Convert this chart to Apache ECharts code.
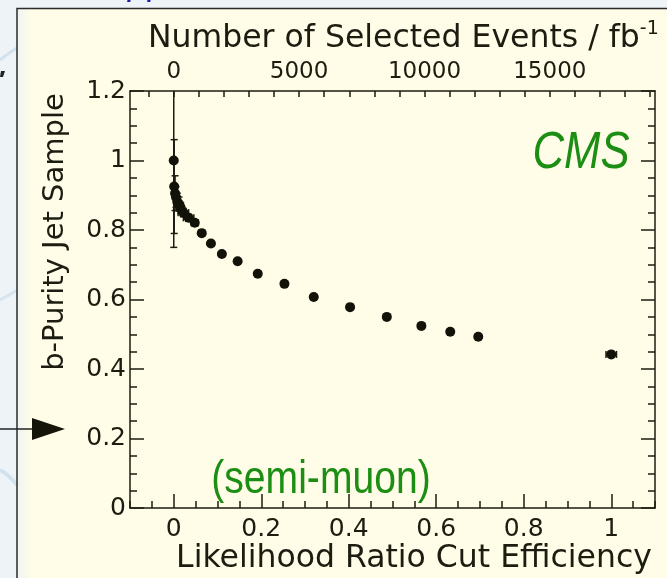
<!DOCTYPE html>
<html>
<head>
<meta charset="utf-8">
<script src="https://cdn.jsdelivr.net/npm/echarts@6/dist/echarts.min.js"></script>
<style>
  html, body { margin: 0; padding: 0; background: #eef3f7; }
  #chart { width: 667px; height: 578px; }
</style>
</head>
<body>
<div id="chart"></div>
<script>
// Likelihood-ratio cut efficiency vs. b-purity of the selected jet sample
const effCut    = [0, 0.001, 0.003, 0.005, 0.008, 0.012, 0.016, 0.022, 0.034, 0.048,
                   0.064, 0.085, 0.110, 0.146, 0.192, 0.253, 0.320, 0.403, 0.487,
                   0.566, 0.632, 0.696, 1.0];
const bPurity   = [1.0, 0.925, 0.906, 0.895, 0.881, 0.875, 0.863, 0.850, 0.835, 0.821,
                   0.791, 0.761, 0.731, 0.710, 0.674, 0.645, 0.607, 0.578, 0.550,
                   0.524, 0.507, 0.493, 0.442];
const purityErr = [0.25, 0.135, 0.05, 0.03, 0.025, 0.02, 0.015, 0.012, 0.01, 0.008,
                   0.008, 0.006, 0.005, 0.005, 0.004, 0.004, 0.004, 0.004, 0.004,
                   0.004, 0.004, 0.004, 0.004];
const effErr    = [0, 0, 0, 0, 0, 0.005, 0.008, 0.012, 0.012, 0.008,
                   0, 0, 0, 0, 0, 0, 0, 0, 0,
                   0, 0, 0, 0.012];

// Axis tick values
const effTicks    = [0, 0.2, 0.4, 0.6, 0.8, 1.0];
const purityTicks = [0, 0.2, 0.4, 0.6, 0.8, 1.0, 1.2];
const eventTicks  = [0, 5000, 10000, 15000];
const eventsAtFullEff = 17450;   // selected events per fb^-1 at efficiency 1

const effMin = -0.1, effMax = 1.1;
const purMin = 0, purMax = 1.2;

function steps(from, to, step) {
  const out = [];
  const n = Math.round((to - from) / step);
  for (let i = 0; i <= n; i++) out.push(+(from + i * step).toFixed(6));
  return out;
}
const isMajor = (v, list) => list.some(m => Math.abs(m - v) < 1e-9);
const effMinor = steps(effMin, effMax, 0.05).filter(v => !isMajor(v, effTicks));
const purMinor = steps(purMin, purMax, 0.05).filter(v => !isMajor(v, purityTicks));
const eventMinor = steps(-1000, 19000, 1000);

const INK = '#1c1c10';
const GREEN = '#1b8e13';
const numFmt = v => String(Math.round(v * 10) / 10);

const chart = echarts.init(document.getElementById('chart'), null, { renderer: 'canvas' });

const axisLine = { show: true, onZero: false, lineStyle: { color: INK, width: 1.5 } };
const hiddenLine = { show: false, onZero: false };
const noSplit = { show: false };
const tickStyle = { color: INK, width: 1.5 };

chart.setOption({
  backgroundColor: '#eef3f7',
  animation: false,
  grid: { left: 130, right: 12, top: 91, bottom: 70, containLabel: false },
  xAxis: [
    { type: 'value', position: 'bottom', min: effMin, max: effMax,
      axisLine, splitLine: noSplit,
      axisTick: { inside: true, length: 14, customValues: effTicks, lineStyle: tickStyle },
      axisLabel: { customValues: effTicks, formatter: numFmt, margin: 9,
                   color: INK, fontFamily: 'DejaVu Sans', fontSize: 25 } },
    { type: 'value', position: 'bottom', min: effMin, max: effMax,
      axisLine: hiddenLine, splitLine: noSplit, axisLabel: { show: false },
      axisTick: { inside: true, length: 7, customValues: effMinor, lineStyle: tickStyle } },
    { type: 'value', position: 'top', min: effMin * eventsAtFullEff, max: effMax * eventsAtFullEff,
      axisLine, splitLine: noSplit,
      axisTick: { inside: true, length: 6, customValues: eventMinor, lineStyle: tickStyle },
      axisLabel: { customValues: eventTicks, formatter: v => String(v), margin: 7,
                   hideOverlap: false, showMinLabel: true, showMaxLabel: true,
                   color: INK, fontFamily: 'DejaVu Sans', fontSize: 23 } }
  ],
  yAxis: [
    { type: 'value', position: 'left', min: purMin, max: purMax,
      axisLine, splitLine: noSplit,
      axisTick: { inside: true, length: 14, customValues: purityTicks, lineStyle: tickStyle },
      axisLabel: { customValues: purityTicks, formatter: numFmt, margin: 4,
                   color: INK, fontFamily: 'DejaVu Sans', fontSize: 25 } },
    { type: 'value', position: 'left', min: purMin, max: purMax,
      axisLine: hiddenLine, splitLine: noSplit, axisLabel: { show: false },
      axisTick: { inside: true, length: 7, customValues: purMinor, lineStyle: tickStyle } },
    { type: 'value', position: 'right', min: purMin, max: purMax,
      axisLine, splitLine: noSplit, axisLabel: { show: false },
      axisTick: { inside: true, length: 14, customValues: purityTicks, lineStyle: tickStyle } },
    { type: 'value', position: 'right', min: purMin, max: purMax,
      axisLine: hiddenLine, splitLine: noSplit, axisLabel: { show: false },
      axisTick: { inside: true, length: 7, customValues: purMinor, lineStyle: tickStyle } }
  ],
  graphic: [
    // page background and the cream panel
    { type: 'rect', z: -20, shape: { x: 18, y: 9, width: 649, height: 569 }, style: { fill: '#fffde8' } },
    { type: 'rect', z: -19, shape: { x: 18, y: 9, width: 14, height: 569 },
      style: { fill: new echarts.graphic.LinearGradient(0, 0, 1, 0, [
        { offset: 0, color: '#f1f5f2' }, { offset: 1, color: '#fffde8' }]) } },
    { type: 'polyline', z: -18, shape: { points: [[17, 578], [17, 8.5], [667, 8.5]] },
      style: { stroke: '#2b2b2b', lineWidth: 1.5, fill: null } },
    // faint swirls on the page
    { type: 'bezierCurve', z: -19, shape: { x1: 0, y1: 60, x2: 17, y2: 48, cpx1: 6, cpy1: 55 },
      style: { stroke: '#d3e1ec', lineWidth: 3, fill: null } },
    { type: 'bezierCurve', z: -19, shape: { x1: 0, y1: 300, x2: 17, y2: 290, cpx1: 8, cpy1: 296 },
      style: { stroke: '#d8e4ee', lineWidth: 3, fill: null } },
    { type: 'bezierCurve', z: -19, shape: { x1: 0, y1: 470, x2: 17, y2: 485, cpx1: 8, cpy1: 474 },
      style: { stroke: '#d3e1ec', lineWidth: 4, fill: null } },
    // fragment of the slide heading above the panel
    { type: 'text', z: -17, x: 128, y: -34,
      style: { text: 'pp', font: 'italic 36px "Liberation Sans"', fill: '#1c1ca8' } },
    { type: 'polygon', z: -17, shape: { points: [[1, 71], [5, 71], [3, 77], [0, 77]] }, style: { fill: '#222' } },
    // pointer arrow
    { type: 'line', z: 5, shape: { x1: 0, y1: 429, x2: 40, y2: 429 }, style: { stroke: '#222', lineWidth: 1.5 } },
    { type: 'polygon', z: 5, shape: { points: [[32, 418], [65, 429], [32, 440]] }, style: { fill: '#15150a' } },
    // axis titles
    { type: 'text', z: 5, x: 148, y: 20,
      style: { text: '{a|Number of Selected Events / fb}{s|-1}', fill: INK,
        rich: { a: { fontFamily: 'DejaVu Sans', fontSize: 31.5, lineHeight: 38, fill: INK },
                s: { fontFamily: 'DejaVu Sans', fontSize: 19, lineHeight: 36, verticalAlign: 'top', fill: INK } } } },
    { type: 'text', z: 5, x: 414, y: 559,
      style: { text: 'Likelihood Ratio Cut Efficiency', fill: INK, align: 'center', verticalAlign: 'middle',
               font: '31.5px "DejaVu Sans"' } },
    { type: 'text', z: 5, x: 55, y: 232, rotation: Math.PI / 2,
      style: { text: 'b-Purity Jet Sample', fill: INK, align: 'center', verticalAlign: 'middle',
               font: '29px "DejaVu Sans"' } },
    // annotations
    { type: 'text', z: 5, x: 581, y: 154, scaleX: 0.84,
      style: { text: 'CMS', fill: GREEN, align: 'center', verticalAlign: 'middle',
               font: 'italic 52px "Liberation Sans"' } },
    { type: 'text', z: 5, x: 321, y: 480, scaleX: 0.85,
      style: { text: '(semi-muon)', fill: GREEN, align: 'center', verticalAlign: 'middle',
               font: '46px "Liberation Sans"' } }
  ],
  series: [
    {
      type: 'custom', xAxisIndex: 0, yAxisIndex: 0, clip: true, z: 3,
      data: effCut.map((x, i) => [x, bPurity[i], purityErr[i], effErr[i]]),
      renderItem(params, api) {
        const x = api.value(0), y = api.value(1), ey = api.value(2), ex = api.value(3);
        const style = { stroke: INK, lineWidth: 1.5 };
        const kids = [];
        const cap = 3.5;
        if (ey > 0) {
          const t = api.coord([x, y + ey]), b = api.coord([x, y - ey]);
          kids.push({ type: 'line', shape: { x1: t[0], y1: t[1], x2: b[0], y2: b[1] }, style });
          kids.push({ type: 'line', shape: { x1: t[0] - cap, y1: t[1], x2: t[0] + cap, y2: t[1] }, style });
          kids.push({ type: 'line', shape: { x1: b[0] - cap, y1: b[1], x2: b[0] + cap, y2: b[1] }, style });
        }
        if (ex > 0) {
          const l = api.coord([x - ex, y]), r = api.coord([x + ex, y]);
          kids.push({ type: 'line', shape: { x1: l[0], y1: l[1], x2: r[0], y2: r[1] }, style });
          kids.push({ type: 'line', shape: { x1: l[0], y1: l[1] - cap, x2: l[0], y2: l[1] + cap }, style });
          kids.push({ type: 'line', shape: { x1: r[0], y1: r[1] - cap, x2: r[0], y2: r[1] + cap }, style });
        }
        return { type: 'group', children: kids };
      }
    },
    {
      type: 'scatter', xAxisIndex: 0, yAxisIndex: 0, z: 4,
      symbol: 'circle', symbolSize: 10,
      itemStyle: { color: '#121208', opacity: 1 },
      data: effCut.map((x, i) => [x, bPurity[i]])
    }
  ]
});
</script>
</body>
</html>
